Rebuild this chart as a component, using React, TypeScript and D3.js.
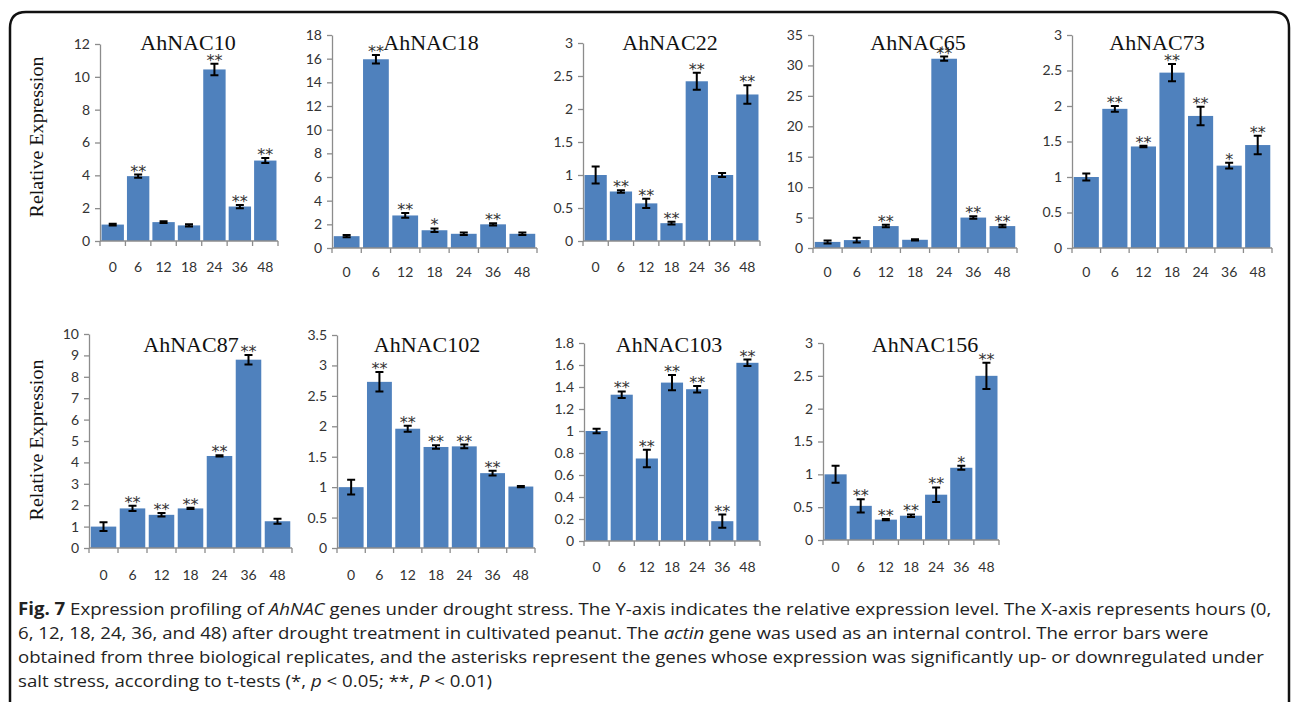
import { useEffect, useRef } from 'react'
import * as d3 from 'd3'

const HOURS = ['0', '6', '12', '18', '24', '36', '48']

const GENES = ['AhNAC10', 'AhNAC18', 'AhNAC22', 'AhNAC65', 'AhNAC73', 'AhNAC87', 'AhNAC102', 'AhNAC103', 'AhNAC156']

const ahnac10Values = [1.0, 3.95, 1.15, 0.95, 10.45, 2.1, 4.9]
const ahnac10Errors = [0.05, 0.1, 0.05, 0.07, 0.35, 0.1, 0.15]
const ahnac10Stars = ['', '**', '', '', '**', '**', '**']

const ahnac18Values = [1.0, 15.95, 2.75, 1.5, 1.2, 2.0, 1.2]
const ahnac18Errors = [0.1, 0.35, 0.2, 0.15, 0.1, 0.1, 0.1]
const ahnac18Stars = ['', '**', '**', '*', '', '**', '']

const ahnac22Values = [1.0, 0.75, 0.57, 0.27, 2.42, 1.0, 2.22]
const ahnac22Errors = [0.13, 0.02, 0.07, 0.02, 0.13, 0.03, 0.14]
const ahnac22Stars = ['', '**', '**', '**', '**', '', '**']

const ahnac65Values = [1.0, 1.3, 3.6, 1.35, 31.1, 5.0, 3.6]
const ahnac65Errors = [0.25, 0.4, 0.2, 0.1, 0.35, 0.2, 0.2]
const ahnac65Stars = ['', '', '**', '', '**', '**', '**']

const ahnac73Values = [1.0, 1.96, 1.43, 2.47, 1.86, 1.16, 1.45]
const ahnac73Errors = [0.05, 0.04, 0.01, 0.12, 0.13, 0.04, 0.13]
const ahnac73Stars = ['', '**', '**', '**', '**', '*', '**']

const ahnac87Values = [1.0, 1.85, 1.55, 1.85, 4.3, 8.8, 1.25]
const ahnac87Errors = [0.2, 0.12, 0.08, 0.03, 0.03, 0.22, 0.12]
const ahnac87Stars = ['', '**', '**', '**', '**', '**', '']

const ahnac102Values = [1.0, 2.73, 1.96, 1.66, 1.67, 1.23, 1.01]
const ahnac102Errors = [0.12, 0.16, 0.05, 0.03, 0.03, 0.04, 0.01]
const ahnac102Stars = ['', '**', '**', '**', '**', '**', '']

const ahnac103Values = [1.0, 1.33, 0.75, 1.44, 1.38, 0.18, 1.62]
const ahnac103Errors = [0.02, 0.03, 0.08, 0.07, 0.03, 0.06, 0.03]
const ahnac103Stars = ['', '**', '**', '**', '**', '**', '**']

const ahnac156Values = [1.0, 0.52, 0.31, 0.37, 0.69, 1.1, 2.5]
const ahnac156Errors = [0.13, 0.1, 0.01, 0.02, 0.11, 0.03, 0.2]
const ahnac156Stars = ['', '**', '**', '**', '**', '*', '**']

const VALUES = [ahnac10Values, ahnac18Values, ahnac22Values, ahnac65Values, ahnac73Values, ahnac87Values, ahnac102Values, ahnac103Values, ahnac156Values]
const ERRORS = [ahnac10Errors, ahnac18Errors, ahnac22Errors, ahnac65Errors, ahnac73Errors, ahnac87Errors, ahnac102Errors, ahnac103Errors, ahnac156Errors]
const STARS = [ahnac10Stars, ahnac18Stars, ahnac22Stars, ahnac65Stars, ahnac73Stars, ahnac87Stars, ahnac102Stars, ahnac103Stars, ahnac156Stars]

const Y_MAX = [12, 18, 3, 35, 3, 10, 3.5, 1.8, 3]
const Y_STEP = [2, 2, 0.5, 5, 0.5, 1, 0.5, 0.2, 0.5]

const CAPTION = [
  [['Fig. 7', 'b'], [' Expression profiling of ', ''], ['AhNAC', 'i'], [' genes under drought stress. The Y-axis indicates the relative expression level. The X-axis represents hours (0,', '']],
  [['6, 12, 18, 24, 36, and 48) after drought treatment in cultivated peanut. The ', ''], ['actin', 'i'], [' gene was used as an internal control. The error bars were', '']],
  [['obtained from three biological replicates, and the asterisks represent the genes whose expression was significantly up- or downregulated under', '']],
  [['salt stress, according to t-tests (*, ', ''], ['p', 'i'], [' < 0.05; **, ', ''], ['P', 'i'], [' < 0.01)', '']],
]

// pixel layout of each panel
const FRAMES = [
  { left: 100, right: 278, top: 44, bottom: 241, titleX: 188, titleY: 50, labelY: 272 },
  { left: 332, right: 537, top: 35, bottom: 248, titleX: 431, titleY: 50, labelY: 277 },
  { left: 583, right: 760, top: 43, bottom: 241, titleX: 670, titleY: 50, labelY: 272 },
  { left: 813, right: 1017, top: 35, bottom: 248, titleX: 918, titleY: 50, labelY: 277 },
  { left: 1072, right: 1272, top: 35, bottom: 248, titleX: 1157, titleY: 50, labelY: 277 },
  { left: 89, right: 292, top: 334, bottom: 548, titleX: 191, titleY: 352, labelY: 580 },
  { left: 337, right: 535, top: 335, bottom: 548, titleX: 427, titleY: 352, labelY: 580 },
  { left: 584, right: 760, top: 343, bottom: 541, titleX: 669, titleY: 352, labelY: 572 },
  { left: 823, right: 999, top: 343, bottom: 540, titleX: 925, titleY: 352, labelY: 572 },
]
const CAPTION_FIRST_WIDTH = 1254
const CAPTION_MAX_WIDTH = 1258

const W = 1293
const H = 702
const BAR = '#4f81bd'
const AXIS = '#8c8c8c'
const TICK_FONT = 'Lato, "Open Sans", sans-serif'
const SERIF = '"Liberation Serif", "DejaVu Serif", serif'

export default function App() {
  const svgRef = useRef<SVGSVGElement>(null)

  useEffect(() => {
    if (!svgRef.current) return
    const svg = d3.select(svgRef.current)
    svg.selectAll('*').remove()

    svg.append('rect').attr('width', W).attr('height', H).attr('fill', '#fff')

    // frame with rounded top corners
    const r = 16
    svg.append('path')
      .attr('d', `M10,${H + 5} V${12 + r} Q10,12 ${10 + r},12 H${1289 - r} Q1289,12 1289,${12 + r} V${H + 5}`)
      .attr('fill', 'none')
      .attr('stroke', '#111')
      .attr('stroke-width', 2.5)

    GENES.forEach((gene, p) => {
      const f = FRAMES[p]
      const vals = VALUES[p]
      const errs = ERRORS[p]
      const stars = STARS[p]
      const g = svg.append('g')

      const x = d3.scaleBand<string>()
        .domain(HOURS)
        .range([f.left, f.right])
        .paddingInner(0.12)
        .paddingOuter(0.06)

      const y = d3.scaleLinear().domain([0, Y_MAX[p]]).range([f.bottom, f.top])
      const ticks = d3.range(0, Y_MAX[p] + Y_STEP[p] / 2, Y_STEP[p])

      // bars
      g.selectAll('rect.bar')
        .data(vals)
        .join('rect')
        .attr('x', (_, i) => x(HOURS[i]) as number)
        .attr('width', x.bandwidth())
        .attr('y', d => y(d))
        .attr('height', d => f.bottom - y(d))
        .attr('fill', BAR)

      // y axis
      const yAxis = g.append('g')
        .attr('transform', `translate(${f.left},0)`)
        .call(d3.axisLeft(y).tickValues(ticks).tickSize(5).tickPadding(5).tickSizeOuter(0).tickFormat(d3.format('~g') as any))
      yAxis.select('.domain').attr('stroke', AXIS).attr('stroke-width', 1.3)
      yAxis.selectAll('.tick line').attr('stroke', AXIS).attr('stroke-width', 1.3)
      yAxis.selectAll('.tick text')
        .attr('fill', '#333')
        .style('font-family', TICK_FONT)
        .style('font-size', '14px')

      // x axis line with ticks at category boundaries
      g.append('line')
        .attr('x1', f.left).attr('x2', f.right)
        .attr('y1', f.bottom).attr('y2', f.bottom)
        .attr('stroke', AXIS).attr('stroke-width', 1.3)
      const step = x.step()
      g.selectAll('line.xt')
        .data(d3.range(HOURS.length + 1))
        .join('line')
        .attr('x1', i => f.left + i * step)
        .attr('x2', i => f.left + i * step)
        .attr('y1', f.bottom)
        .attr('y2', f.bottom + 5)
        .attr('stroke', AXIS).attr('stroke-width', 1.3)
      g.selectAll('text.xl')
        .data(HOURS)
        .join('text')
        .attr('x', d => (x(d) as number) + x.bandwidth() / 2)
        .attr('y', f.labelY)
        .attr('text-anchor', 'middle')
        .attr('fill', '#333')
        .style('font-family', TICK_FONT)
        .style('font-size', '14px')
        .text(d => d)

      // error bars
      const cap = 4
      vals.forEach((v, i) => {
        const cx = (x(HOURS[i]) as number) + x.bandwidth() / 2
        const y1 = y(v + errs[i])
        const y0 = y(Math.max(0, v - errs[i]))
        g.append('path')
          .attr('d', `M${cx},${y0} V${y1} M${cx - cap},${y1} H${cx + cap} M${cx - cap},${y0} H${cx + cap}`)
          .attr('stroke', '#000')
          .attr('stroke-width', 2)
          .attr('fill', 'none')
        if (stars[i]) {
          g.append('text')
            .attr('x', cx)
            .attr('y', y1 + 2)
            .attr('text-anchor', 'middle')
            .attr('fill', '#333')
            .style('font-family', '"DejaVu Sans", sans-serif')
            .style('font-size', '16px')
            .text(stars[i])
        }
      })

      // title
      g.append('text')
        .attr('x', f.titleX)
        .attr('y', f.titleY)
        .attr('text-anchor', 'middle')
        .attr('fill', '#111')
        .style('font-family', SERIF)
        .style('font-size', '22px')
        .text(gene)
    })

    // y axis titles
    ;[137, 440].forEach(cy => {
      svg.append('text')
        .attr('transform', `translate(43,${cy}) rotate(-90)`)
        .attr('text-anchor', 'middle')
        .attr('fill', '#111')
        .attr('textLength', 161)
        .attr('lengthAdjust', 'spacingAndGlyphs')
        .style('font-family', SERIF)
        .style('font-size', '19px')
        .text('Relative Expression')
    })

    // caption: one horizontal squeeze, taken from the first line
    let squeeze = 1
    CAPTION.forEach((line, li) => {
      const t = svg.append('text')
        .attr('fill', '#222')
        .style('font-family', '"Open Sans", sans-serif')
        .style('font-size', '17px')
        .style('white-space', 'pre')
      line.forEach(([txt, st]) => {
        t.append('tspan')
          .attr('font-weight', st === 'b' ? 'bold' : null)
          .attr('font-style', st === 'i' ? 'italic' : null)
          .text(txt)
      })
      const len = (t.node() as SVGTextElement).getComputedTextLength()
      if (li === 0 && len > 0) squeeze = CAPTION_FIRST_WIDTH / len
      const k = len > 0 ? Math.min(squeeze, CAPTION_MAX_WIDTH / len) : 1
      t.attr('transform', `translate(18,${615 + li * 24}) scale(${k},1)`)
    })
  }, [])

  return (
    <svg ref={svgRef} width={W} height={H} style={{ position: 'absolute', left: 0, top: 0 }} />
  )
}
